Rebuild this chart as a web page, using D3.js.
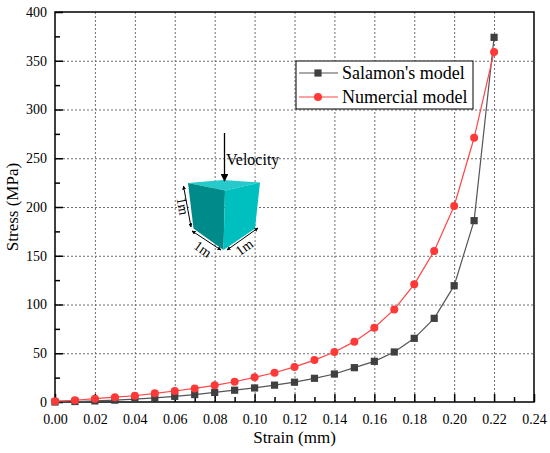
<!DOCTYPE html>
<html>
<head>
<meta charset="utf-8">
<script src="https://cdn.jsdelivr.net/npm/d3@7"></script>
<style>
  body { margin: 0; background: #fff; }
</style>
</head>
<body>
<div id="viscontainer"></div>
<script>
const strain = [0.00, 0.01, 0.02, 0.03, 0.04, 0.05, 0.06, 0.07, 0.08, 0.09, 0.10, 0.11,
  0.12, 0.13, 0.14, 0.15, 0.16, 0.17, 0.18, 0.19, 0.20, 0.21, 0.22];
const salamon = [0, 0.5, 1.1, 1.9, 3.0, 4.3, 5.8, 7.6, 9.8, 12.1, 14.4, 17.3,
  20.3, 24.3, 28.7, 35.2, 41.7, 51.3, 65.3, 85.8, 119.3, 186, 374];
const numerical = [0.8, 1.8, 3.4, 4.9, 6.4, 8.9, 11.3, 13.9, 17.1, 20.8, 25.3, 30,
  36, 43, 51.3, 61.9, 76.2, 95, 120.7, 155, 201, 271, 359];
const xTicks = [0, 0.02, 0.04, 0.06, 0.08, 0.10, 0.12, 0.14, 0.16, 0.18, 0.20, 0.22, 0.24];
const yTicks = [0, 50, 100, 150, 200, 250, 300, 350, 400];
const seriesNames = ["Salamon's model", "Numercial model"];

const width = 550;
const height = 453;
const margin = { top: 12, right: 16, bottom: 51, left: 55 };
const serif = "Liberation Serif";

const svg = d3.select("#viscontainer")
  .append("svg")
  .attr("width", width)
  .attr("height", height);

const x = d3.scaleLinear().domain([0, 0.24]).range([margin.left, width - margin.right]);
const y = d3.scaleLinear().domain([0, 400]).range([height - margin.bottom, margin.top]);
const plotH = y(0) - y(400);
const plotW = x(0.24) - x(0);

// dotted grid at the major ticks, drawn with axes
svg.append("g")
  .attr("class", "grid")
  .attr("transform", `translate(0,${y(0)})`)
  .call(d3.axisBottom(x).tickValues(xTicks.slice(1, -1)).tickSize(-plotH).tickFormat(""))
  .call(g => g.select(".domain").remove())
  .call(g => g.selectAll(".tick line")
    .attr("stroke", "#6e6e6e").attr("stroke-dasharray", "2,2"));

svg.append("g")
  .attr("class", "grid")
  .attr("transform", `translate(${x(0)},0)`)
  .call(d3.axisLeft(y).tickValues(yTicks.slice(1, -1)).tickSize(-plotW).tickFormat(""))
  .call(g => g.select(".domain").remove())
  .call(g => g.selectAll(".tick line")
    .attr("stroke", "#6e6e6e").attr("stroke-dasharray", "2,2"));

// frame
svg.append("rect")
  .attr("x", x(0)).attr("y", y(400))
  .attr("width", plotW).attr("height", plotH)
  .attr("fill", "none").attr("stroke", "#000").attr("stroke-width", 1.5);

// axes with inward ticks
const xAxis = svg.append("g")
  .attr("transform", `translate(0,${y(0)})`)
  .call(d3.axisBottom(x).tickValues(xTicks).tickSize(-8).tickPadding(12)
    .tickFormat(d3.format(".2f")));
xAxis.select(".domain").remove();
xAxis.selectAll(".tick line").attr("stroke-width", 1.5);
xAxis.selectAll("text").attr("fill", "#000")
  .attr("font-family", serif).attr("font-size", 14);

svg.append("g")
  .attr("transform", `translate(0,${y(0)})`)
  .call(d3.axisBottom(x).tickValues(d3.range(0.01, 0.24, 0.02)).tickSize(-5).tickFormat(""))
  .call(g => g.select(".domain").remove())
  .selectAll(".tick line").attr("stroke-width", 1.5);

const yAxis = svg.append("g")
  .attr("transform", `translate(${x(0)},0)`)
  .call(d3.axisLeft(y).tickValues(yTicks).tickSize(-8).tickPadding(8));
yAxis.select(".domain").remove();
yAxis.selectAll(".tick line").attr("stroke-width", 1.5);
yAxis.selectAll("text").attr("fill", "#000")
  .attr("font-family", serif).attr("font-size", 14);

svg.append("g")
  .attr("transform", `translate(${x(0)},0)`)
  .call(d3.axisLeft(y).tickValues(d3.range(25, 400, 50)).tickSize(-5).tickFormat(""))
  .call(g => g.select(".domain").remove())
  .selectAll(".tick line").attr("stroke-width", 1.5);

// axis titles
svg.append("text")
  .attr("x", x(0) + plotW / 2).attr("y", height - 10)
  .attr("text-anchor", "middle").attr("font-size", 17)
  .attr("font-family", serif)
  .text("Strain (mm)");

svg.append("text")
  .attr("transform", `translate(18,${y(400) + plotH / 2}) rotate(-90)`)
  .attr("text-anchor", "middle").attr("font-size", 17)
  .attr("font-family", serif)
  .text("Stress (MPa)");

// series
const line = d3.line().x(d => x(d[0])).y(d => y(d[1]));
const salData = strain.map((s, i) => [s, salamon[i]]);
const numData = strain.map((s, i) => [s, numerical[i]]);

svg.append("path").datum(salData).attr("d", line)
  .attr("fill", "none").attr("stroke", "#555").attr("stroke-width", 1.2);
svg.append("path").datum(numData).attr("d", line)
  .attr("fill", "none").attr("stroke", "#ff4545").attr("stroke-width", 1.2);

svg.append("g").selectAll("rect")
  .data(salData)
  .join("rect")
  .attr("x", d => x(d[0]) - 3.6).attr("y", d => y(d[1]) - 3.6)
  .attr("width", 7.2).attr("height", 7.2)
  .attr("fill", "#404040");

svg.append("g").selectAll("circle")
  .data(numData)
  .join("circle")
  .attr("cx", d => x(d[0])).attr("cy", d => y(d[1]))
  .attr("r", 4)
  .attr("fill", "#ff3838");

// legend
const legend = svg.append("g").attr("transform", "translate(296,61)");
legend.append("rect")
  .attr("width", 177).attr("height", 48)
  .attr("fill", "#fff").attr("stroke", "#000").attr("stroke-width", 1);
seriesNames.forEach((name, i) => {
  const cy = 12 + i * 24;
  legend.append("line")
    .attr("x1", 3).attr("x2", 42).attr("y1", cy).attr("y2", cy)
    .attr("stroke", i === 0 ? "#555" : "#ff4545").attr("stroke-width", 1.2);
  if (i === 0) {
    legend.append("rect").attr("x", 22 - 3.6).attr("y", cy - 3.6)
      .attr("width", 7.2).attr("height", 7.2).attr("fill", "#404040");
  } else {
    legend.append("circle").attr("cx", 22).attr("cy", cy).attr("r", 4).attr("fill", "#ff3838");
  }
  legend.append("text")
    .attr("x", 46).attr("y", cy + 6)
    .attr("font-size", 18)
    .attr("font-family", serif)
    .text(name);
});

// cube inset
const inset = svg.append("g");
inset.append("polygon")
  .attr("points", "188,183 223,180 260,182.5 225,190.5")
  .attr("fill", "#26caca");
inset.append("polygon")
  .attr("points", "188,183 225,190.5 223.5,250 193.5,228.5")
  .attr("fill", "#008b8b");
inset.append("polygon")
  .attr("points", "225,190.5 260,182.5 255,228.5 223.5,250")
  .attr("fill", "#00bfbf");

const defs = svg.append("defs");
defs.append("marker")
  .attr("id", "ah").attr("viewBox", "0 0 10 10")
  .attr("refX", 9).attr("refY", 5)
  .attr("markerWidth", 4).attr("markerHeight", 4)
  .attr("orient", "auto-start-reverse")
  .append("path").attr("d", "M0,0 L10,5 L0,10 z").attr("fill", "#000");
defs.append("marker")
  .attr("id", "big").attr("viewBox", "0 0 10 10")
  .attr("refX", 9).attr("refY", 5)
  .attr("markerWidth", 6).attr("markerHeight", 6)
  .attr("orient", "auto")
  .append("path").attr("d", "M0,0 L10,5 L0,10 z").attr("fill", "#000");

inset.append("line")
  .attr("x1", 224.5).attr("y1", 133).attr("x2", 224.5).attr("y2", 181)
  .attr("stroke", "#000").attr("stroke-width", 1.3)
  .attr("marker-end", "url(#big)");
inset.append("text")
  .attr("x", 226).attr("y", 165).attr("font-size", 16)
  .attr("font-family", serif)
  .text("Velocity");

const dims = [
  { x1: 183.5, y1: 186, x2: 191, y2: 227, tx: 178, ty: 207, rot: 80 },
  { x1: 192, y1: 231, x2: 221, y2: 250, tx: 200, ty: 253, rot: 36 },
  { x1: 227, y1: 250, x2: 258, y2: 228, tx: 247, ty: 251, rot: -36 }
];
dims.forEach(d => {
  inset.append("line")
    .attr("x1", d.x1).attr("y1", d.y1).attr("x2", d.x2).attr("y2", d.y2)
    .attr("stroke", "#000").attr("stroke-width", 1)
    .attr("marker-start", "url(#ah)").attr("marker-end", "url(#ah)");
  inset.append("text")
    .attr("transform", `translate(${d.tx},${d.ty}) rotate(${d.rot})`)
    .attr("text-anchor", "middle").attr("font-size", 14)
    .attr("font-family", serif)
    .text("1m");
});
</script>
</body>
</html>
